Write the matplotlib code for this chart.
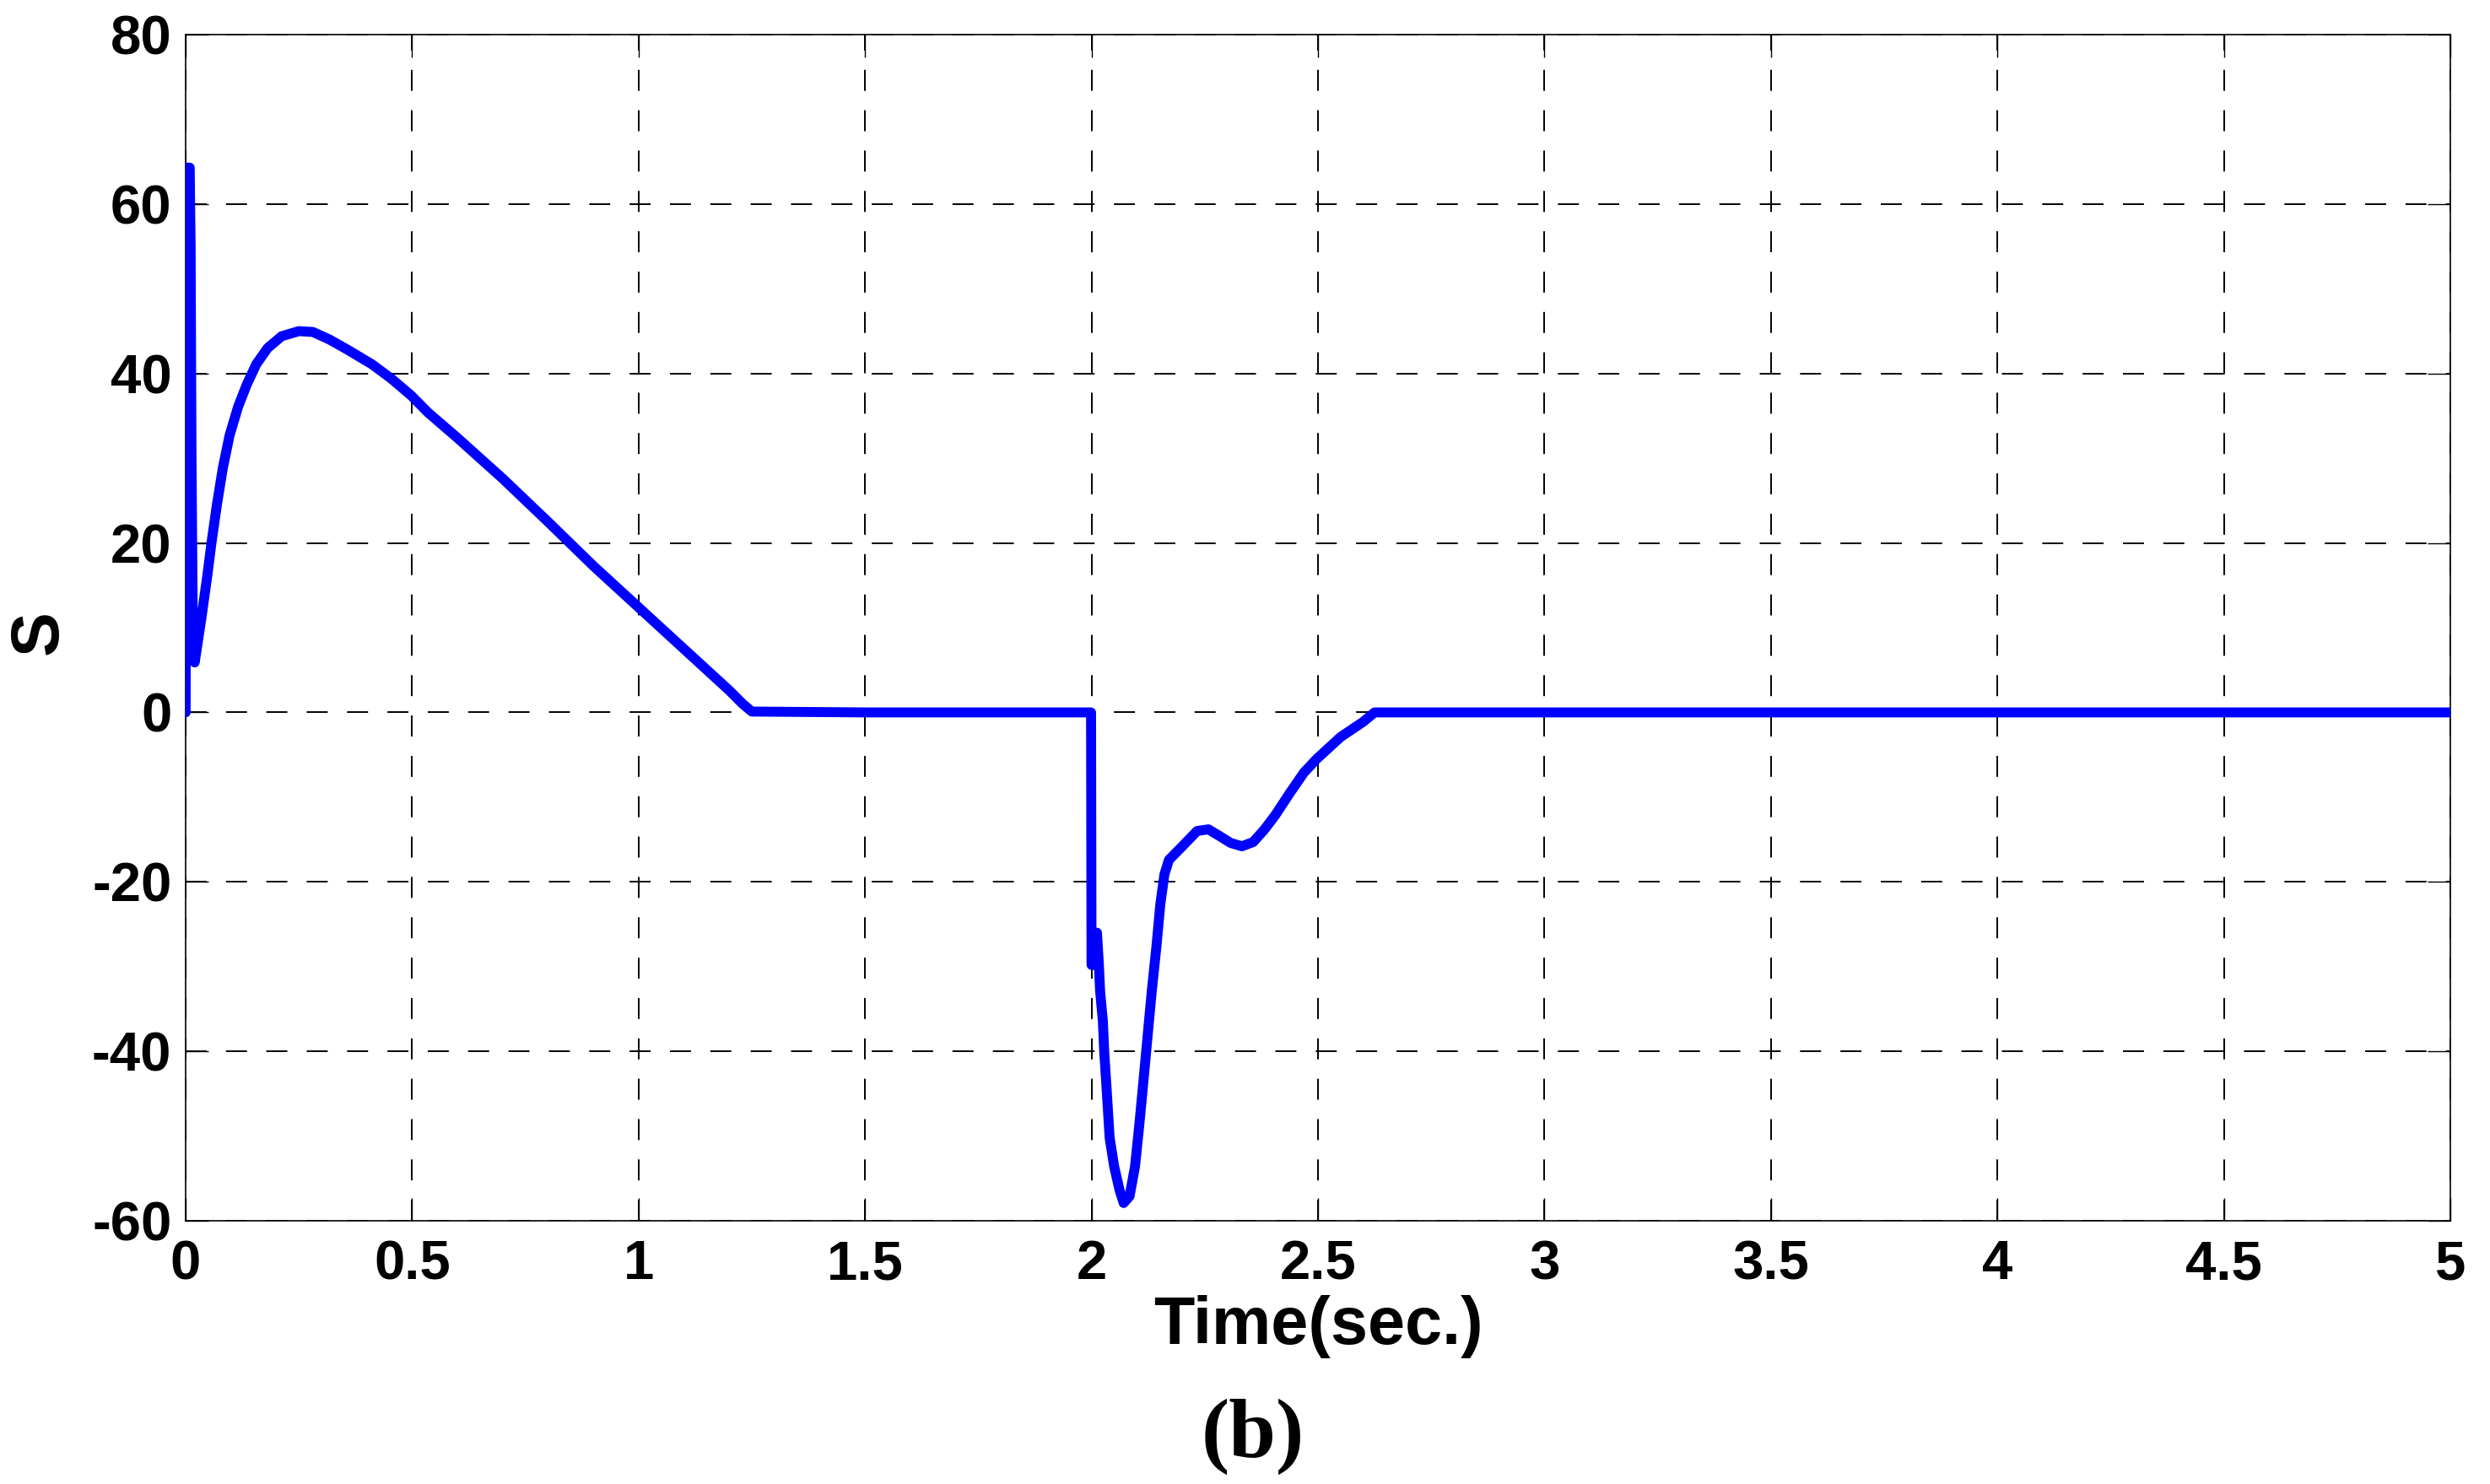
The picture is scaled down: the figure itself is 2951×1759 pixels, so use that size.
import numpy as np
import matplotlib
matplotlib.use('Agg')
import matplotlib.pyplot as plt

plt.rcParams['axes.unicode_minus'] = False

# Sliding surface S
time_s = np.array([
    0.0, 0.002, 0.009, 0.011, 0.013, 0.016, 0.020, 0.035, 0.048, 0.057,
    0.069, 0.082, 0.097, 0.116, 0.135, 0.156, 0.181, 0.212, 0.250, 0.281,
    0.318, 0.361, 0.411, 0.454, 0.498, 0.535, 0.600, 0.700, 0.800, 0.900,
    1.000, 1.100, 1.200, 1.230, 1.250, 1.500, 1.999, 2.000, 2.004, 2.008,
    2.012, 2.016, 2.019, 2.025, 2.028, 2.034, 2.040, 2.050, 2.062, 2.071,
    2.084, 2.096, 2.106, 2.115, 2.124, 2.133, 2.143, 2.152, 2.161, 2.171,
    2.195, 2.233, 2.258, 2.283, 2.307, 2.332, 2.357, 2.382, 2.406, 2.438,
    2.469, 2.497, 2.550, 2.600, 2.625, 5.000])
s_vals = np.array([
    0.0, 64.3, 64.3, 55.0, 30.0, 9.0, 5.9, 11.2, 16.2, 20.0,
    24.5, 28.8, 32.7, 36.1, 38.7, 41.1, 43.0, 44.4, 45.0, 44.9,
    44.0, 42.7, 41.1, 39.4, 37.4, 35.4, 32.4, 27.6, 22.5, 17.3,
    12.4, 7.5, 2.6, 1.0, 0.1, 0.0, 0.0, -29.8, -29.8, -28.0,
    -26.0, -29.5, -32.9, -36.4, -40.0, -45.0, -50.2, -53.6, -56.4, -57.9,
    -57.1, -53.6, -48.4, -43.3, -38.1, -32.9, -27.8, -22.6, -19.1, -17.4,
    -16.1, -14.0, -13.8, -14.6, -15.4, -15.8, -15.3, -13.8, -12.1, -9.5,
    -7.1, -5.5, -2.9, -1.1, 0.0, 0.0])

xticks = [0, 0.5, 1, 1.5, 2, 2.5, 3, 3.5, 4, 4.5, 5]
xtick_labels = ['0', '0.5', '1', '1.5', '2', '2.5', '3', '3.5', '4', '4.5', '5']
yticks = [-60, -40, -20, 0, 20, 40, 60, 80]

W, H = 2951, 1759
fig = plt.figure(figsize=(W / 100, H / 100), dpi=100)
ax = fig.add_axes([220 / W, 1 - 1447 / H, (2904 - 220) / W, (1447 - 41) / H])

ax.plot(time_s, s_vals, color=(0, 0, 1), linewidth=8.5,
        solid_joinstyle='round', solid_capstyle='round', zorder=3)

ax.set_xlim(0, 5)
ax.set_ylim(-60, 80)
ax.set_xticks(xticks)
ax.set_xticklabels(xtick_labels)
ax.set_yticks(yticks)

ax.grid(True, color='black', linewidth=1.4, linestyle=(0, (12.8, 11.8)))
ax.set_axisbelow(True)

for sp in ax.spines.values():
    sp.set_linewidth(1.2)

ax.tick_params(direction='in', length=19.5, width=1.0, top=True, right=True,
               labelsize=47, pad=12)
for lab in ax.get_xticklabels() + ax.get_yticklabels():
    lab.set_fontfamily('Liberation Sans')
    lab.set_fontweight('bold')
ax.tick_params(axis='x', pad=16)

ax.set_xlabel('Time(sec.)', fontsize=57, fontweight='bold',
              family='Liberation Sans', labelpad=4)
ax.set_ylabel('S', fontsize=57, fontweight='bold', family='Liberation Sans')
ax.yaxis.set_label_coords((85 - 220) / (2904 - 220), 0.496)

fig.text(0.503, 32 / H, '(b)', ha='center', va='baseline', fontsize=72,
         fontweight='bold', family='Liberation Serif')

fig.savefig('out.png', dpi=100)
